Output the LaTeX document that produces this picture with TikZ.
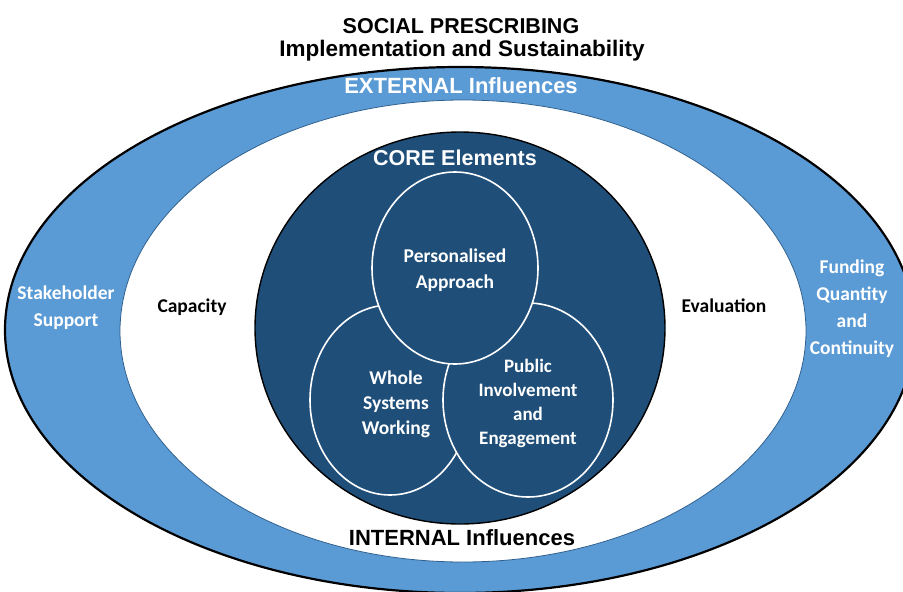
\documentclass[tikz,border=0pt]{standalone}
\usepackage{fontspec}
\setmainfont{Liberation Sans}
\newfontfamily\calibri{Carlito}

\definecolor{bandblue}{HTML}{5B9BD5}
\definecolor{coreblue}{HTML}{1F4E79}
\definecolor{edgeblue}{HTML}{2E5F8E}

\tikzset{
  heading/.style={font=\bfseries\fontsize{22}{26}\selectfont, anchor=base},
  ringtext/.style={font=\calibri\bfseries\fontsize{19.5}{27}\selectfont, align=center},
  coretext/.style={font=\calibri\bfseries\fontsize{19.5}{25}\selectfont, align=center, white},
  venn/.style={fill=coreblue, draw=white, line width=1.6pt}
}

\begin{document}
\begin{tikzpicture}[x=1pt, y=-1pt]
	%%%%% START %%%%%
	\useasboundingbox (0,0) rectangle (903,592);
	\clip (0,0) rectangle (903,592);
	
	% external band, internal ring and core
	\draw[fill=bandblue, line width=2.2pt] (460,330) ellipse [x radius=455, y radius=263];
	\draw[fill=white, draw=edgeblue, line width=0.8pt] (463,331) ellipse [x radius=343, y radius=231];
	\draw[fill=coreblue, line width=1.4pt] (460,328) ellipse [x radius=205, y radius=196];
	
	% the three core elements
	\draw[venn] (390,400) ellipse [x radius=80, y radius=95];
	\draw[venn] (528,400) ellipse [x radius=85, y radius=97];
	\draw[venn] (455,268) ellipse [x radius=83, y radius=96];
	
	% headings
	\node[heading, font=\bfseries\fontsize{21.5}{26}\selectfont] (social) at (461,33) {SOCIAL PRESCRIBING};
	\node[heading, font=\bfseries\fontsize{22.5}{26}\selectfont] (impl) at (462,56) {Implementation and Sustainability};
	\node[heading, white] (external) at (461,93) {EXTERNAL Influences};
	\node[heading, white, font=\bfseries\fontsize{21.5}{26}\selectfont] (core) at (455,165) {CORE Elements};
	\node[heading] (internal) at (462,545) {INTERNAL Influences};
	
	% ring labels
	\node[ringtext, white] (stakeholder) at (66,308) {Stakeholder\\Support};
	\node[ringtext] (capacity) at (192,307) {Capacity};
	\node[ringtext] (evaluation) at (724,306) {Evaluation};
	\node[ringtext, white] (funding) at (852,309) {Funding\\Quantity\\and\\Continuity};
	
	% core labels
	\node[coretext, font=\calibri\bfseries\fontsize{19.5}{26}\selectfont] (personal) at (455,270) {Personalised\\Approach};
	\node[coretext] (whole) at (396,404) {Whole\\Systems\\Working};
	\node[coretext, font=\calibri\bfseries\fontsize{19}{24}\selectfont] (public) at (528,403) {Public\\Involvement\\and\\Engagement};
	%%%%% END %%%%%
\end{tikzpicture}
\end{document}
